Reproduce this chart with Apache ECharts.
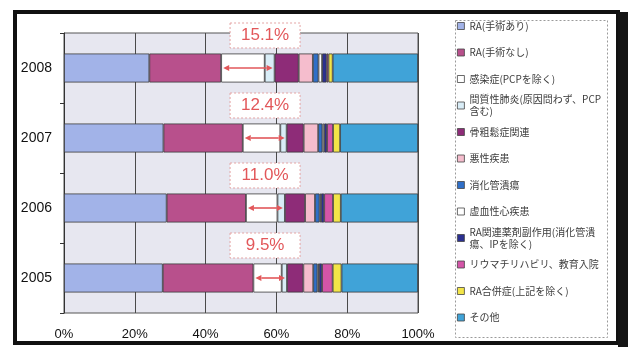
<!DOCTYPE html>
<html>
<head>
<meta charset="utf-8">
<script src="https://cdn.jsdelivr.net/npm/echarts@6/dist/echarts.min.js"></script>
<style>
  html, body { margin: 0; padding: 0; background: #fff; }
  #chart { width: 628px; height: 347px; }
</style>
</head>
<body>
<div id="chart"></div>
<script>
// Years, bottom to top
const categories = ['2005', '2006', '2007', '2008'];

// Share of each cause (%), per year in the order above
const raWithSurgery    = [27.9, 29.0, 28.1, 24.1];
const raWithoutSurgery = [25.6, 22.4, 22.4, 20.3];
const infection        = [8.0, 8.9, 10.6, 12.3];
const interstitialPn   = [1.5, 2.1, 1.8, 2.8];
const osteoporosis     = [4.6, 5.7, 4.8, 6.8];
const malignancy       = [2.8, 2.8, 4.1, 4.0];
const pepticUlcer      = [1.2, 1.3, 1.2, 1.6];
const ischemicHeart    = [0.4, 0.4, 0.5, 1.0];
const drugAdverse      = [0.9, 0.9, 0.8, 1.3];
const rehabEducation   = [3.0, 2.5, 1.7, 0.5];
const raComplication   = [2.5, 2.2, 2.0, 1.2];
const others           = [21.6, 21.8, 22.0, 24.1];

const seriesNames = [
  'RA(手術あり)', 'RA(手術なし)', '感染症(PCPを除く)', '間質性肺炎(原因問わず、PCP含む)',
  '骨粗鬆症関連', '悪性疾患', '消化管潰瘍', '虚血性心疾患',
  'RA関連薬剤副作用(消化管潰瘍、IPを除く)', 'リウマチリハビリ、教育入院', 'RA合併症(上記を除く)', 'その他'
];
// Legend wording with its line breaks
const legendLabels = [
  'RA(手術あり)', 'RA(手術なし)', '感染症(PCPを除く)', '間質性肺炎(原因問わず、PCP\n含む)',
  '骨粗鬆症関連', '悪性疾患', '消化管潰瘍', '虚血性心疾患',
  'RA関連薬剤副作用(消化管潰\n瘍、IPを除く)', 'リウマチリハビリ、教育入院', 'RA合併症(上記を除く)', 'その他'
];
const xTicks = [0, 20, 40, 60, 80, 100];

const values = [
  raWithSurgery, raWithoutSurgery, infection, interstitialPn,
  osteoporosis, malignancy, pepticUlcer, ischemicHeart,
  drugAdverse, rehabEducation, raComplication, others
];
const colors = [
  '#a2b3e8', '#b8508c', '#ffffff', '#d9edf7',
  '#8e2c78', '#f5bdcd', '#2f6fc8', '#ffffff',
  '#2b3090', '#d455a8', '#f3e548', '#40a3d8'
];

const JP = '"Noto Sans CJK JP", "Noto Sans", sans-serif';
const LAT = '"Liberation Sans", Arial, sans-serif';
const RED = '#e2575a';
const NOTE_X = 56.8;   // horizontal centre of the callout boxes, in axis %

const legends = seriesNames.map((name, i) => {
  const twoLine = legendLabels[i].indexOf('\n') >= 0;
  const cy = 26 + i * 26.5;
  return {
    data: [name],
    orient: 'vertical',
    left: 457,
    top: twoLine ? cy - 18 : cy - 6,
    padding: 0,
    itemWidth: 7,
    itemHeight: 7,
    itemGap: 0,
    icon: 'rect',
    selectedMode: false,
    itemStyle: { borderColor: '#444', borderWidth: 0.8 },
    formatter: () => legendLabels[i],
    textStyle: {
      fontFamily: JP, fontSize: 10, lineHeight: 12, color: '#3c3c3c',
      padding: twoLine ? [12, 0, 0, 0] : 0
    }
  };
});

const barSeries = seriesNames.map((name, i) => ({
  type: 'bar',
  name: name,
  stack: 'share',
  data: values[i],
  barWidth: 29,
  itemStyle: { color: colors[i], borderColor: '#3a3a3a', borderWidth: 0.8 },
  emphasis: { disabled: true }
}));

// Callout: arrow across infection + interstitial pneumonia, boxed total above the bar
const calloutSeries = {
  type: 'custom',
  name: 'callout',
  silent: true,
  z: 10,
  data: categories.map((c, i) => {
    const start = raWithSurgery[i] + raWithoutSurgery[i];
    const share = infection[i] + interstitialPn[i];
    return [i, start, start + share, share];
  }),
  encode: { x: [1, 2], y: 0 },
  renderItem: (params, api) => {
    const idx = api.value(0);
    const p1 = api.coord([api.value(1), idx]);
    const p2 = api.coord([api.value(2), idx]);
    const y = p1[1];
    const xa = p1[0] + 2, xb = p2[0] - 2;
    const c = api.coord([NOTE_X, idx]);
    const by = y - 14.5 - 18;
    const ah = 6, aw = 3;
    return {
      type: 'group',
      children: [
        { type: 'line', shape: { x1: xa + ah, y1: y, x2: xb - ah, y2: y },
          style: { stroke: RED, lineWidth: 1.6 } },
        { type: 'polygon', shape: { points: [[xa, y], [xa + ah, y - aw], [xa + ah, y + aw]] },
          style: { fill: RED } },
        { type: 'polygon', shape: { points: [[xb, y], [xb - ah, y - aw], [xb - ah, y + aw]] },
          style: { fill: RED } },
        { type: 'rect', shape: { x: c[0] - 35, y: by - 12.5, width: 70, height: 25 },
          style: { fill: '#fff', stroke: '#e4a3a3', lineWidth: 1, lineDash: [2, 2] } },
        { type: 'text', x: c[0], y: by,
          style: { text: api.value(3).toFixed(1) + '%', fill: RED, font: '17px ' + LAT,
                   align: 'center', verticalAlign: 'middle' } }
      ]
    };
  }
};

const chart = echarts.init(document.getElementById('chart'));
chart.setOption({
  animation: false,
  backgroundColor: '#ffffff',
  grid: {
    left: 64, right: 210, top: 33, bottom: 34,
    show: true, backgroundColor: '#e7e7f0', borderColor: '#555', borderWidth: 1
  },
  xAxis: {
    type: 'value',
    min: xTicks[0], max: xTicks[xTicks.length - 1], interval: xTicks[1] - xTicks[0],
    axisLine: { show: false },
    axisTick: { show: false },
    splitLine: { show: true, lineStyle: { color: '#4a4a4a', width: 1 } },
    axisLabel: { formatter: v => v + '%', fontFamily: LAT, fontSize: 13, color: '#111', margin: 15 }
  },
  yAxis: {
    type: 'category',
    data: categories,
    axisLine: { show: true, lineStyle: { color: '#333', width: 1 } },
    axisTick: { show: true, length: 4, lineStyle: { color: '#333' } },
    axisLabel: { fontFamily: LAT, fontSize: 14, color: '#111', margin: 12 }
  },
  legend: legends,
  graphic: [
    { type: 'rect', z: 100, silent: true,
      shape: { x: 15, y: 12, width: 603, height: 331 },
      style: { fill: null, stroke: '#111', lineWidth: 4 } },
    { type: 'rect', z: 100, silent: true,
      shape: { x: 618, y: 12, width: 10, height: 335 },
      style: { fill: '#151515' } },
    { type: 'rect', z: 100, silent: true,
      shape: { x: 455.5, y: 20.5, width: 152, height: 317 },
      style: { fill: null, stroke: '#9a9a9a', lineWidth: 1, lineDash: [2, 2] } }
  ],
  series: barSeries.concat([calloutSeries])
});
</script>
</body>
</html>
